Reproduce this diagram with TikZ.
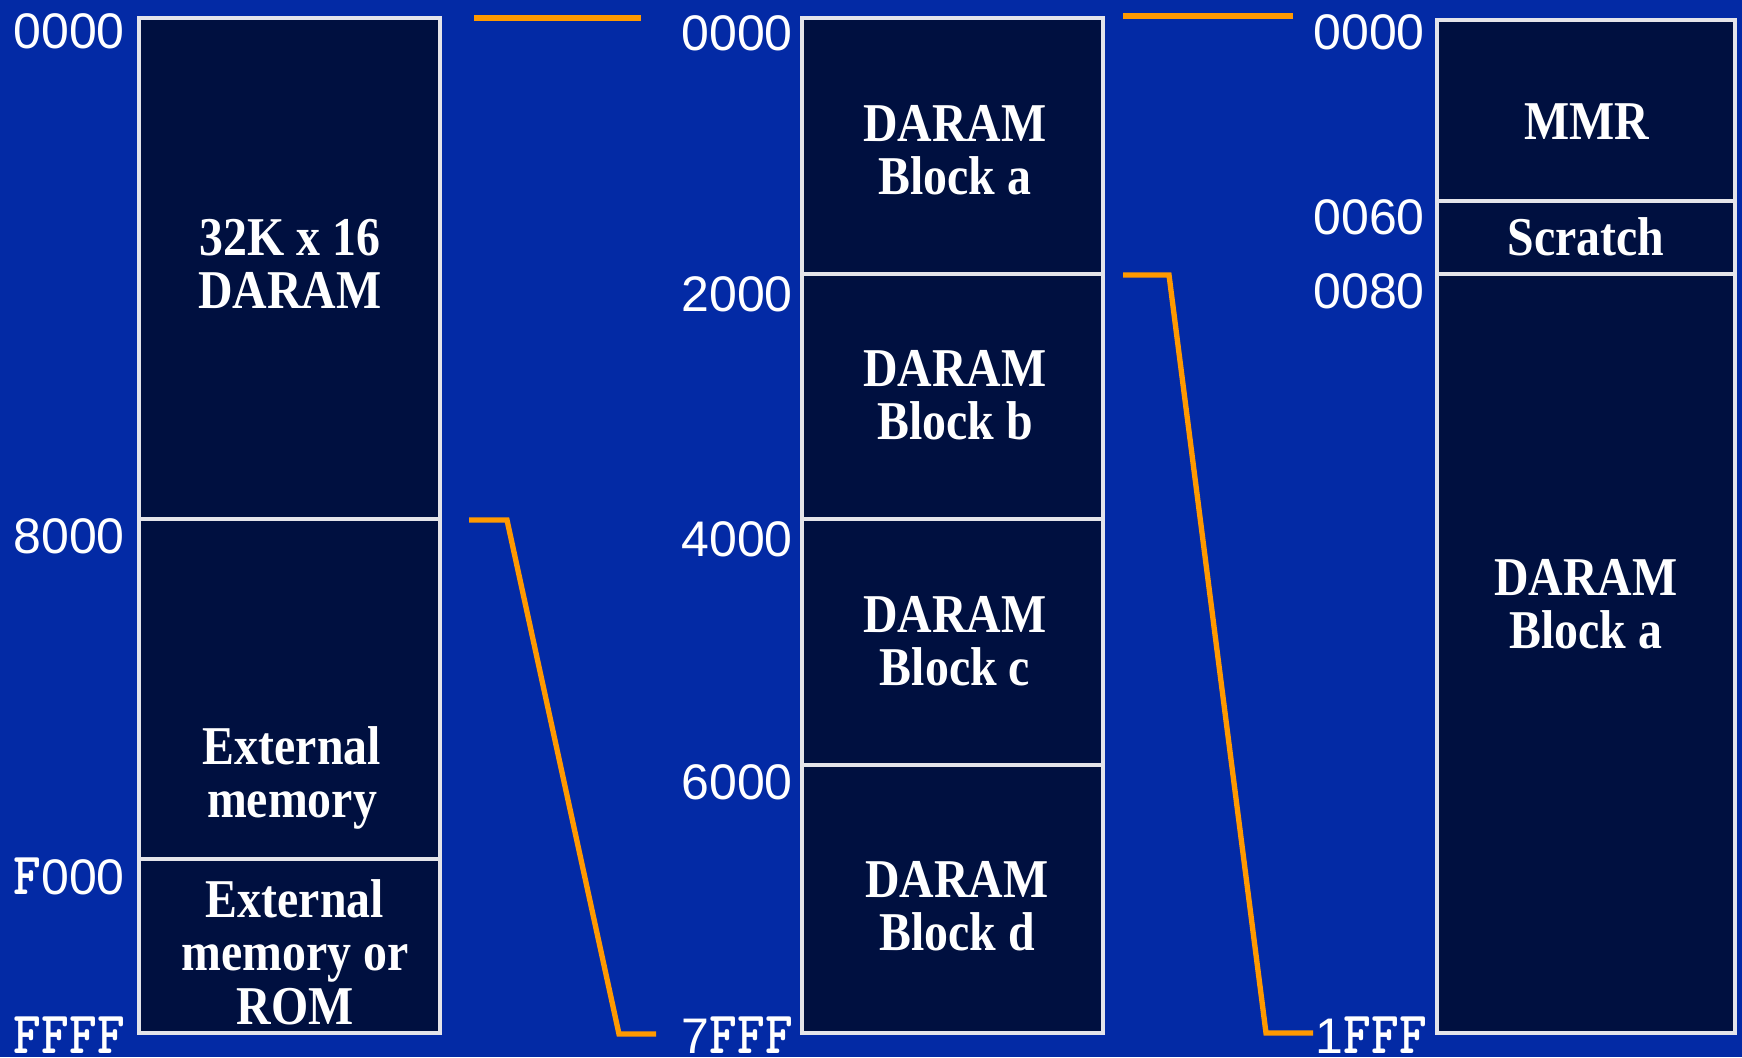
\documentclass[tikz,border=0pt]{standalone}
\usepackage{graphicx}
\usepackage{fontspec}
\newfontfamily\lblfont{Liberation Sans}
\newfontfamily\boxfont{Liberation Serif}[FakeStretch=0.875]
\definecolor{bgcol}{RGB}{3,42,165}
\definecolor{boxcol}{RGB}{0,16,64}
\definecolor{bordercol}{RGB}{228,228,234}
\definecolor{orangecol}{RGB}{255,153,0}
\newcommand{\FFx}[1]{\scalebox{0.88}[1]{\fontsize{45}{40}\selectfont\ttfamily\bfseries #1}}
\begin{document}
\begin{tikzpicture}[x=0.75pt,y=-0.75pt,
  cell/.style={draw=bordercol, line width=3pt, fill=boxcol, rectangle, inner sep=0pt, outer sep=0pt},
  celltext/.style={text=white, align=center, inner sep=0pt, font=\boxfont\bfseries\fontsize{41}{40}\selectfont},
  addr/.style={text=white, inner sep=0pt, anchor=base east, font=\lblfont\fontsize{37.5}{40}\selectfont},
  bracket/.style={draw=orangecol, line width=4pt, line join=miter}]
\useasboundingbox (0,0) rectangle (1742,1057);
\fill[bgcol] (0,0) rectangle (1742,1057);

% left column
\node[cell, minimum width=225.75pt, minimum height=375.75pt] (a1) at (289.5,268.5) {};
\node[cell, minimum width=225.75pt, minimum height=255pt] (a2) at (289.5,689) {};
\node[cell, minimum width=225.75pt, minimum height=130.5pt] (a3) at (289.5,946) {};
% middle column
\node[cell, minimum width=225.75pt, minimum height=192pt] (b1) at (952.5,146) {};
\node[cell, minimum width=225.75pt, minimum height=183.75pt] (b2) at (952.5,396.5) {};
\node[cell, minimum width=225.75pt, minimum height=184.5pt] (b3) at (952.5,642) {};
\node[cell, minimum width=225.75pt, minimum height=201pt] (b4) at (952.5,899) {};
% right column
\node[cell, minimum width=223.5pt, minimum height=135.75pt] (c1) at (1586,110.5) {};
\node[cell, minimum width=223.5pt, minimum height=54.75pt] (c2) at (1586,237.5) {};
\node[cell, minimum width=223.5pt, minimum height=569.25pt] (c3) at (1586,653.5) {};

% cell texts
\node[celltext] (ta1) at (290,264) {32K x 16\\DARAM};
\node[celltext] (ta2) at (292,778) {External\\memory};
\node[celltext] (ta3) at (295,952) {External\\memory or\\ROM};
\node[celltext] (tb1) at (955,150) {DARAM\\Block a};
\node[celltext] (tb2) at (955,395) {DARAM\\Block b};
\node[celltext] (tb3) at (955,641) {DARAM\\Block c};
\node[celltext] (tb4) at (957,906) {DARAM\\Block d};
\node[celltext] (tc1) at (1587,122) {MMR};
\node[celltext] (tc2) at (1586,237) {Scratch};
\node[celltext] (tc3) at (1586,604) {DARAM\\Block a};

% address labels
\node[addr] (la0) at (125,48) {0000};
\node[addr] (la1) at (125,553) {8000};
\node[addr] (la2) at (125,894) {\FFx{F}000};
\node[addr] (la3) at (125,1053) {\FFx{FFFF}};
\node[addr] (lb0) at (793,50) {0000};
\node[addr] (lb1) at (793,311) {2000};
\node[addr] (lb2) at (793,556) {4000};
\node[addr] (lb3) at (793,799) {6000};
\node[addr] (lb4) at (793,1053) {7\FFx{FFF}};
\node[addr] (lc0) at (1425,49) {0000};
\node[addr] (lc1) at (1425,234) {0060};
\node[addr] (lc2) at (1425,308) {0080};
\node[addr] (lc3) at (1427,1053) {1\FFx{FFF}};

% orange brackets
\coordinate (p1) at (474,18);
\coordinate (p2) at (641,18);
\coordinate (q1) at (469,520);
\coordinate (q2) at (507,520);
\coordinate (q3) at (619,1034);
\coordinate (q4) at (656,1034);
\coordinate (r1) at (1123,16);
\coordinate (r2) at (1293,16);
\coordinate (s1) at (1123,275);
\coordinate (s2) at (1169,275);
\coordinate (s3) at (1266,1033);
\coordinate (s4) at (1313,1033);
\draw[bracket] (p1) -- (p2);
\draw[bracket] (q1) -- (q2) -- (q3) -- (q4);
\draw[bracket] (r1) -- (r2);
\draw[bracket] (s1) -- (s2) -- (s3) -- (s4);
\end{tikzpicture}
\end{document}
